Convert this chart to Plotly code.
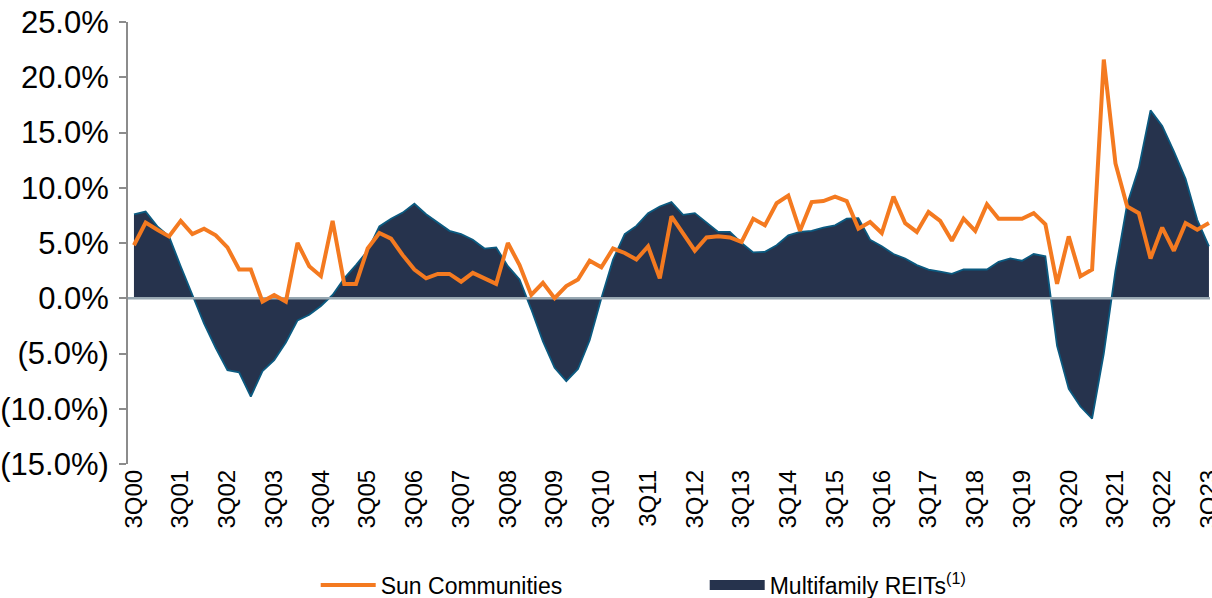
import plotly.graph_objects as go

# ---- data ----
# quarterly labels 3Q00 .. 3Q23
quarters = []
yr, q = 0, 3
while True:
    quarters.append(f"{q}Q{yr:02d}")
    if yr == 23 and q == 3:
        break
    q += 1
    if q == 5:
        q = 1
        yr += 1

sun_communities = [
    4.8, 6.85, 6.2, 5.6, 7.0, 5.8, 6.3, 5.7, 4.6, 2.6,
    2.6, -0.3, 0.3, -0.3, 5.0, 2.9, 2.0, 7.0, 1.3, 1.3,
    4.5, 5.9, 5.4, 3.9, 2.6, 1.8, 2.2, 2.2, 1.5, 2.3,
    1.8, 1.3, 5.0, 3.0, 0.3, 1.4, 0.0, 1.1, 1.7, 3.4,
    2.8, 4.5, 4.1, 3.5, 4.7, 1.8, 7.4, 5.9, 4.3, 5.5,
    5.6, 5.5, 5.1, 7.2, 6.6, 8.6, 9.3, 6.1, 8.7, 8.8,
    9.2, 8.8, 6.3, 6.9, 5.9, 9.2, 6.8, 6.0, 7.8, 7.0,
    5.2, 7.2, 6.1, 8.5, 7.2, 7.2, 7.2, 7.7, 6.7, 1.3,
    5.6, 2.0, 2.6, 21.6, 12.2, 8.3, 7.7, 3.6, 6.4, 4.3,
    6.8, 6.2, 6.8,
]

multifamily_reits = [
    7.6, 7.85, 6.5, 5.6, 2.9, 0.3, -2.3, -4.5, -6.5, -6.7,
    -8.9, -6.6, -5.6, -4.0, -2.0, -1.5, -0.7, 0.3, 1.8, 3.0,
    4.3, 6.5, 7.2, 7.75, 8.55, 7.6, 6.85, 6.1, 5.8, 5.3,
    4.5, 4.6, 2.9, 1.7, -1.0, -3.9, -6.3, -7.5, -6.4, -3.8,
    0.0, 3.5, 5.8, 6.55, 7.7, 8.3, 8.7, 7.55, 7.7, 6.85,
    6.0, 6.0, 5.0, 4.15, 4.2, 4.8, 5.7, 6.0, 6.1, 6.4,
    6.6, 7.2, 7.25, 5.3, 4.7, 4.0, 3.6, 3.0, 2.6, 2.4,
    2.2, 2.6, 2.6, 2.6, 3.3, 3.6, 3.4, 4.0, 3.8, -4.3,
    -8.2, -9.8, -10.9, -5.0, 2.5, 8.5, 11.8, 17.0, 15.6, 13.3,
    10.8, 7.1, 4.7,
]

y_tick_values = [25, 20, 15, 10, 5, 0, -5, -10, -15]
y_tick_labels = ["25.0%", "20.0%", "15.0%", "10.0%", "5.0%", "0.0%",
                 "(5.0%)", "(10.0%)", "(15.0%)"]
x_tick_labels = [f"3Q{y:02d}" for y in range(0, 24)]

# ---- figure ----
idx = list(range(len(quarters)))
x_tick_vals = [quarters.index(t) for t in x_tick_labels]
x_lo, x_hi = -0.51, len(quarters) - 1 + 0.09

FONT = "Arial, Liberation Sans, sans-serif"
NAVY = "#26334d"

fig = go.Figure()
fig.add_trace(go.Scatter(
    x=idx, y=multifamily_reits, name="Multifamily REITs<sup>(1)</sup>",
    mode="lines", fill="tozeroy", fillcolor=NAVY,
    line=dict(color="#0b5a80", width=1.8), showlegend=False,
    legendgroup="mf", hoverinfo="skip",
))
# legend swatch for the area series (no data drawn)
fig.add_trace(go.Scatter(
    x=[None], y=[None], name="Multifamily REITs<sup>(1)</sup>",
    mode="lines", line=dict(color=NAVY, width=22), legendrank=2,
    legendgroup="mf", hoverinfo="skip",
))
# zero baseline spanning the axis range
fig.add_trace(go.Scatter(
    x=[x_lo, x_hi], y=[0, 0], mode="lines",
    line=dict(color="#98a8b2", width=2.5), showlegend=False, hoverinfo="skip",
    cliponaxis=False,
))
fig.add_trace(go.Scatter(
    x=idx, y=sun_communities, name="Sun Communities", mode="lines",
    line=dict(color="#f47a20", width=4), legendrank=1, hoverinfo="skip",
))

fig.update_layout(
    width=1212, height=598,
    margin=dict(l=128, r=2, t=22, b=134, autoexpand=False),
    paper_bgcolor="white", plot_bgcolor="white",
    font=dict(family=FONT, color="#000000"),
    showlegend=True,
    legend=dict(
        orientation="h", x=0.533, xanchor="center", y=-0.274, yanchor="middle",
        font=dict(size=23, family=FONT), entrywidth=319, itemwidth=55,
        bgcolor="rgba(0,0,0,0)",
    ),
    xaxis=dict(
        range=[x_lo, x_hi], tickmode="array", tickvals=x_tick_vals,
        ticktext=x_tick_labels, tickangle=-90, tickfont=dict(size=24),
        showline=False, showgrid=False, zeroline=False, ticks="",
        automargin=False, ticklabeloverflow="allow",
    ),
    yaxis=dict(
        range=[-15, 25], tickmode="array", tickvals=y_tick_values,
        ticktext=y_tick_labels, tickfont=dict(size=31),
        showline=True, linecolor="#8c8c8c", linewidth=2,
        ticks="outside", ticklen=7, tickcolor="#8c8c8c", tickwidth=2,
        ticklabelstandoff=4,
        showgrid=False, zeroline=False, automargin=False,
    ),
)

fig.write_html(
    "out.html",
    config={"displayModeBar": False, "staticPlot": True},
    post_script="document.body.style.margin='0';document.body.style.overflow='hidden';",
)
